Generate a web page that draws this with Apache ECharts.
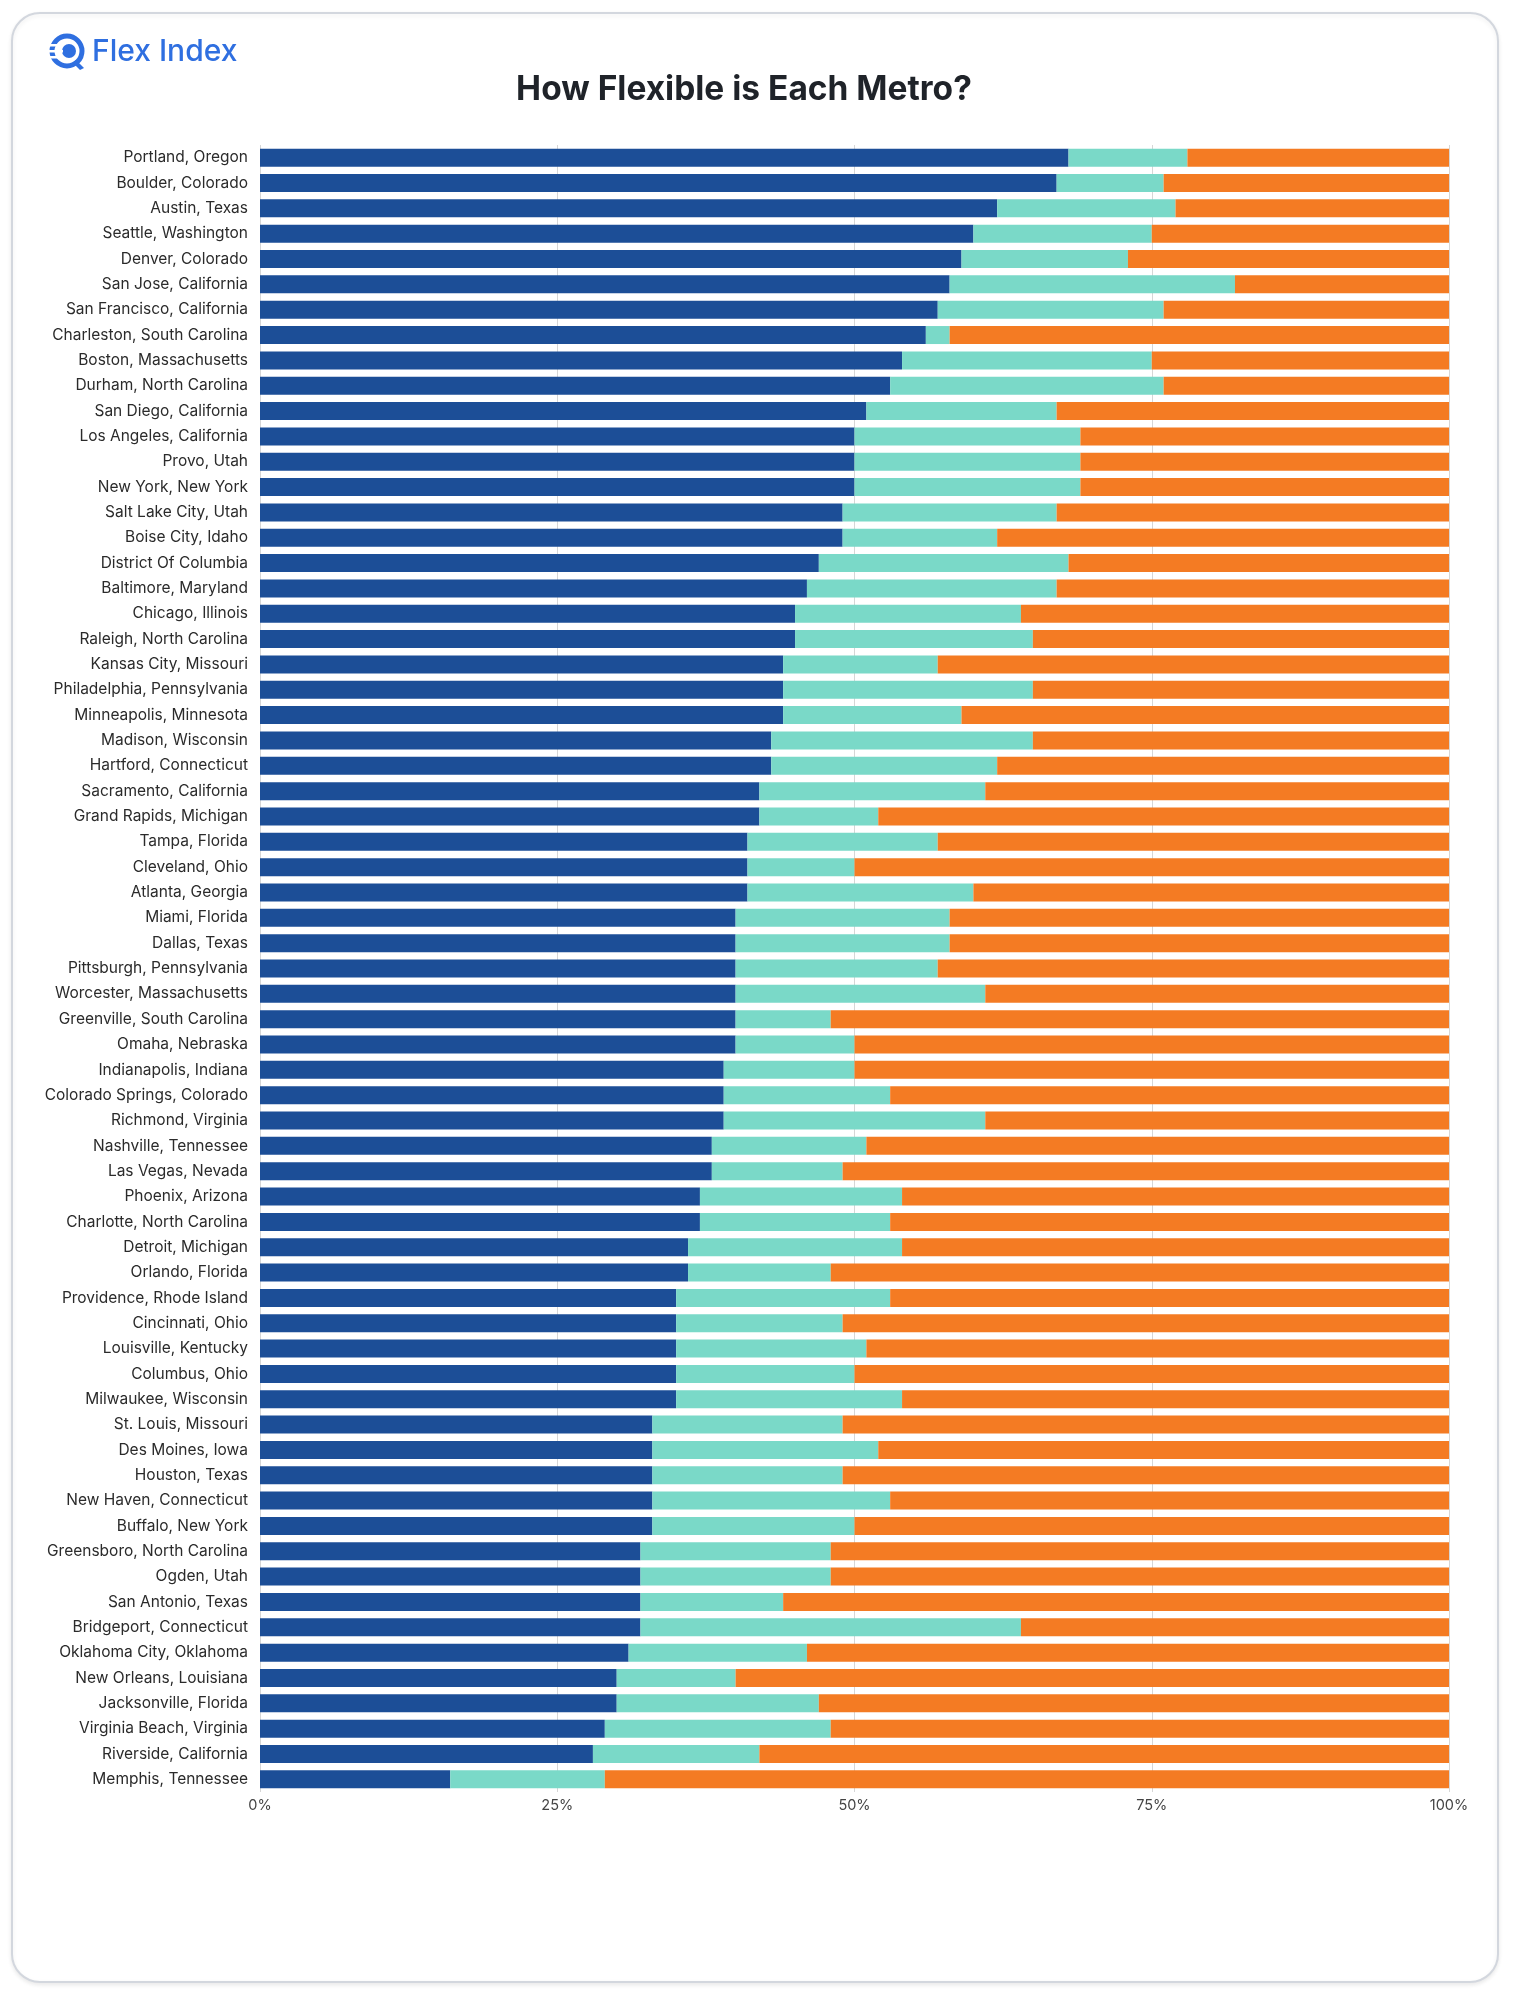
<!DOCTYPE html>
<html>
<head>
<meta charset="utf-8">
<script src="https://cdn.jsdelivr.net/npm/echarts@6/dist/echarts.min.js"></script>
<style>
  html, body { margin: 0; padding: 0; background: #ffffff; }
  #chart { width: 1515px; height: 2000px; }
</style>
</head>
<body>
<div id="chart"></div>
<script>
// Categories (top to bottom)
const metros = [
  "Portland, Oregon", "Boulder, Colorado", "Austin, Texas", "Seattle, Washington",
  "Denver, Colorado", "San Jose, California", "San Francisco, California",
  "Charleston, South Carolina", "Boston, Massachusetts", "Durham, North Carolina",
  "San Diego, California", "Los Angeles, California", "Provo, Utah", "New York, New York",
  "Salt Lake City, Utah", "Boise City, Idaho", "District Of Columbia", "Baltimore, Maryland",
  "Chicago, Illinois", "Raleigh, North Carolina", "Kansas City, Missouri",
  "Philadelphia, Pennsylvania", "Minneapolis, Minnesota", "Madison, Wisconsin",
  "Hartford, Connecticut", "Sacramento, California", "Grand Rapids, Michigan",
  "Tampa, Florida", "Cleveland, Ohio", "Atlanta, Georgia", "Miami, Florida", "Dallas, Texas",
  "Pittsburgh, Pennsylvania", "Worcester, Massachusetts", "Greenville, South Carolina",
  "Omaha, Nebraska", "Indianapolis, Indiana", "Colorado Springs, Colorado",
  "Richmond, Virginia", "Nashville, Tennessee", "Las Vegas, Nevada", "Phoenix, Arizona",
  "Charlotte, North Carolina", "Detroit, Michigan", "Orlando, Florida",
  "Providence, Rhode Island", "Cincinnati, Ohio", "Louisville, Kentucky", "Columbus, Ohio",
  "Milwaukee, Wisconsin", "St. Louis, Missouri", "Des Moines, Iowa", "Houston, Texas",
  "New Haven, Connecticut", "Buffalo, New York", "Greensboro, North Carolina", "Ogden, Utah",
  "San Antonio, Texas", "Bridgeport, Connecticut", "Oklahoma City, Oklahoma",
  "New Orleans, Louisiana", "Jacksonville, Florida", "Virginia Beach, Virginia",
  "Riverside, California", "Memphis, Tennessee"
];

// Dark blue segment (%)
const blueValues = [
  68, 67, 62, 60, 59, 58, 57, 56, 54, 53,
  51, 50, 50, 50, 49, 49, 47, 46, 45, 45,
  44, 44, 44, 43, 43, 42, 42, 41, 41, 41,
  40, 40, 40, 40, 40, 40, 39, 39, 39, 38,
  38, 37, 37, 36, 36, 35, 35, 35, 35, 35,
  33, 33, 33, 33, 33, 32, 32, 32, 32, 31,
  30, 30, 29, 28, 16
];

// Teal segment (%)
const tealValues = [
  10, 9, 15, 15, 14, 24, 19, 2, 21, 23,
  16, 19, 19, 19, 18, 13, 21, 21, 19, 20,
  13, 21, 15, 22, 19, 19, 10, 16, 9, 19,
  18, 18, 17, 21, 8, 10, 11, 14, 22, 13,
  11, 17, 16, 18, 12, 18, 14, 16, 15, 19,
  16, 19, 16, 20, 17, 16, 16, 12, 32, 15,
  10, 17, 19, 14, 13
];

// Orange segment (%)
const orangeValues = [
  22, 24, 23, 25, 27, 18, 24, 42, 25, 24,
  33, 31, 31, 31, 33, 38, 32, 33, 36, 35,
  43, 35, 41, 35, 38, 39, 48, 43, 50, 40,
  42, 42, 43, 39, 52, 50, 50, 47, 39, 49,
  51, 46, 47, 46, 52, 47, 51, 49, 50, 46,
  51, 48, 51, 47, 50, 52, 52, 56, 36, 54,
  60, 53, 52, 58, 71
];

// X-axis tick labels
const xTicks = [0, 25, 50, 75, 100];

const chart = echarts.init(document.getElementById('chart'), null, { renderer: 'canvas' });

const FONT = 'Inter, "Noto Sans", sans-serif';

const option = {
  backgroundColor: '#ffffff',
  animation: false,
  graphic: [
    {
      type: 'rect',
      z: -10,
      shape: { x: 12, y: 13, width: 1486, height: 1969, r: 28 },
      style: {
        fill: '#ffffff', stroke: '#d3d7de', lineWidth: 2,
        shadowBlur: 4, shadowColor: 'rgba(0,0,0,0.08)', shadowOffsetY: 2
      }
    },
    // logo icon
    {
      type: 'group',
      x: 67, y: 51,
      children: [
        { type: 'circle', shape: { cx: 0, cy: 0, r: 15 }, style: { fill: 'none', stroke: '#2f6fe0', lineWidth: 5 } },
        { type: 'circle', shape: { cx: 2, cy: 0, r: 7 }, style: { fill: '#2f6fe0' } },
        { type: 'rect', shape: { x: -20, y: -7, width: 14, height: 2.5 }, style: { fill: '#ffffff' } },
        { type: 'rect', shape: { x: -20, y: -1, width: 16, height: 2.5 }, style: { fill: '#ffffff' } },
        { type: 'rect', shape: { x: -20, y: 5, width: 14, height: 2.5 }, style: { fill: '#ffffff' } },
        { type: 'polygon', shape: { points: [[9, 9], [17, 17], [13, 19], [6, 12]] }, style: { fill: '#2f6fe0' } }
      ]
    },
    {
      type: 'text',
      left: 92, top: 37,
      style: {
        text: 'Flex Index', fill: '#2f6fe0',
        font: '500 30px ' + FONT
      }
    },
    {
      type: 'text',
      x: 744, y: 90,
      style: {
        text: 'How Flexible is Each Metro?', fill: '#1f2329',
        font: '700 33.5px ' + FONT,
        textAlign: 'center', textVerticalAlign: 'middle'
      }
    }
  ],
  grid: {
    left: 260, right: 66, top: 145, height: 1647,
    containLabel: false
  },
  xAxis: {
    type: 'value',
    min: 0, max: 100, interval: 25,
    axisLine: { show: false },
    axisTick: { show: false },
    splitLine: { show: true, lineStyle: { color: '#d6d6d6', width: 1 } },
    axisLabel: {
      margin: 6,
      fontFamily: FONT, fontSize: 14.5, color: '#444444',
      formatter: function (v) { return xTicks.indexOf(v) >= 0 ? v + '%' : ''; }
    }
  },
  yAxis: {
    type: 'category',
    data: metros,
    inverse: true,
    axisLine: { show: false },
    axisTick: { show: false },
    splitLine: { show: false },
    axisLabel: {
      margin: 12,
      fontFamily: FONT, fontSize: 15.5, color: '#2b2b2b',
      interval: 0
    }
  },
  series: [
    {
      name: 'Blue', type: 'bar', stack: 'total', barWidth: 18,
      itemStyle: { color: '#1c4e97' },
      data: blueValues
    },
    {
      name: 'Teal', type: 'bar', stack: 'total', barWidth: 18,
      itemStyle: { color: '#7ad9c8' },
      data: tealValues
    },
    {
      name: 'Orange', type: 'bar', stack: 'total', barWidth: 18,
      itemStyle: { color: '#f47b23' },
      data: orangeValues
    }
  ]
};

chart.setOption(option);
</script>
</body>
</html>
